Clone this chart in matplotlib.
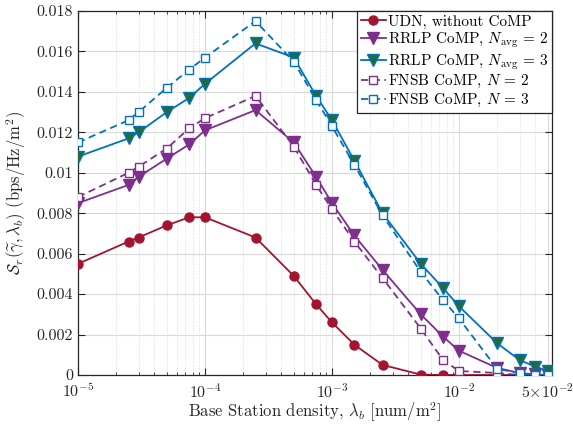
import matplotlib
matplotlib.use("Agg")
import matplotlib.pyplot as plt
import numpy as np
from matplotlib.ticker import LogLocator, NullFormatter

plt.rcParams['font.family'] = ['serif']
plt.rcParams['font.serif'] = ['cmr10', 'DejaVu Serif']
plt.rcParams['mathtext.fontset'] = 'cm'
plt.rcParams['axes.formatter.use_mathtext'] = True
plt.rcParams['axes.unicode_minus'] = False

density = [1e-5, 2.5e-5, 3e-5, 5e-5, 7.5e-5, 1e-4, 2.5e-4, 5e-4, 7.5e-4, 1e-3,
           1.5e-3, 2.5e-3, 5e-3, 7.5e-3, 1e-2, 2e-2, 3e-2, 4e-2, 5e-2]

udn = [0.0055, 0.0066, 0.0068, 0.0074, 0.0078, 0.0078, 0.0068, 0.0049, 0.0035, 0.0026,
       0.0015, 0.0005, 0.00002, 0.0, 0.0, 0.0, 0.0, 0.0, 0.0]
rrlp2 = [0.0085, 0.0094, 0.0098, 0.0107, 0.0114, 0.0121, 0.0131, 0.0115, 0.0098, 0.0085,
         0.0069, 0.0052, 0.0030, 0.0019, 0.0012, 0.00035, 0.0001, 0.00003, 0.0]
rrlp3 = [0.0108, 0.0117, 0.0120, 0.0130, 0.0137, 0.0144, 0.0164, 0.0157, 0.0138, 0.0126,
         0.0106, 0.0080, 0.0055, 0.0043, 0.0034, 0.00157, 0.00074, 0.00041, 0.0002]
fnsb2 = [0.0088, 0.0100, 0.0103, 0.0112, 0.0122, 0.0127, 0.0138, 0.0113, 0.0094, 0.0082,
         0.0066, 0.0048, 0.0023, 0.00074, 0.0002, 0.0001, 0.0, 0.0, 0.0]
fnsb3 = [0.0115, 0.0126, 0.0130, 0.0142, 0.0151, 0.0157, 0.0175, 0.0155, 0.0136, 0.0123,
         0.0104, 0.0079, 0.0051, 0.0037, 0.0028, 0.0003, 0.0001, 0.0, 0.0]

labels = ["UDN, without CoMP",
          r"RRLP CoMP, $N_{\rm avg}\,=\,2$",
          r"RRLP CoMP, $N_{\rm avg}\,=\,3$",
          r"FNSB CoMP, $N\,=\,2$",
          r"FNSB CoMP, $N\,=\,3$"]

xticks = [1e-5, 1e-4, 1e-3, 1e-2, 5e-2]
xticklabels = [r"$10^{-5}$", r"$10^{-4}$", r"$10^{-3}$", r"$10^{-2}$", r"$5{\times}10^{-2}$"]
yticks = [0, 0.002, 0.004, 0.006, 0.008, 0.01, 0.012, 0.014, 0.016, 0.018]
yticklabels = ["0", "0.002", "0.004", "0.006", "0.008", "0.01", "0.012", "0.014", "0.016", "0.018"]

red = '#A2142F'
purple = '#7E2F8E'
blue = '#0072BD'
green = '#236B3A'

fig = plt.figure(figsize=(5.73, 4.25), dpi=100)
ax = fig.add_axes([0.1361, 0.1176, 0.8272, 0.8565])

ax.plot(density, udn, '-o', color=red, lw=1.3, ms=6.5, mfc=red, mec=red, label=labels[0], zorder=3)
ax.plot(density, rrlp2, '-v', color=purple, lw=1.3, ms=8, mfc=purple, mec=purple, label=labels[1], zorder=3)
ax.plot(density, rrlp3, '-v', color=blue, lw=1.3, ms=8, mfc=green, mec=blue, label=labels[2], zorder=3)
ax.plot(density, fnsb2, '--s', color=purple, lw=1.3, ms=5.5, mfc='white', mec=purple, label=labels[3],
        dashes=(4, 2.5), zorder=3)
ax.plot(density, fnsb3, '--s', color=blue, lw=1.3, ms=5.5, mfc='white', mec=blue, label=labels[4],
        dashes=(4, 2.5), zorder=3)

ax.set_xscale('log')
ax.set_xlim(1e-5, 5.4e-2)
ax.set_ylim(0, 0.018)
ax.set_xticks(xticks)
ax.set_xticklabels(xticklabels)
ax.xaxis.set_minor_locator(LogLocator(base=10, subs=np.arange(2, 10), numticks=20))
ax.xaxis.set_minor_formatter(NullFormatter())
ax.set_yticks(yticks)
ax.set_yticklabels(yticklabels)

ax.grid(True, which='major', color='#d9d9d9', lw=0.8, ls='-', zorder=0)
ax.grid(True, which='minor', axis='x', color='#d0d0d0', lw=0.6, ls=':', zorder=0)
ax.set_axisbelow(True)

ax.tick_params(which='both', direction='in', top=True, right=True, labelsize=11.5, colors='#262626',
               labelcolor='#262626')
ax.tick_params(which='major', length=5, width=0.8)
ax.tick_params(which='minor', length=2.5, width=0.6)
ax.tick_params(axis='x', pad=5)
for s in ax.spines.values():
    s.set_color('#262626')
    s.set_linewidth(0.9)

ax.set_xlabel(r"Base Station density, $\lambda_b$ [num/m$^2$]", fontsize=12, color='#262626', labelpad=0)
ax.set_ylabel(r"$\mathcal{S}_r(\widetilde{\gamma},\boldsymbol{\lambda}_b)$ $(\mathrm{bps/Hz/m^2})$",
              fontsize=12, color='#262626', labelpad=6)

leg = ax.legend(loc='upper right', fontsize=11, frameon=True, fancybox=False, borderaxespad=0.0,
                handlelength=1.6, handletextpad=0.15, labelspacing=0.12, borderpad=0.25)
leg.get_frame().set_edgecolor('#262626')
leg.get_frame().set_linewidth(0.9)
leg.get_frame().set_alpha(1)

fig.savefig('out.png', dpi=100)
